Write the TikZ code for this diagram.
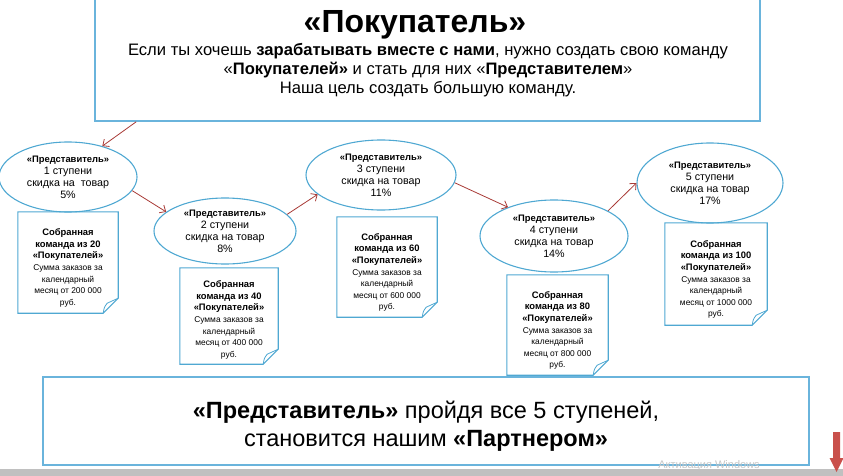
\documentclass[tikz,border=0pt]{standalone}
\usepackage{fontspec}
\setmainfont{Liberation Sans}
\usetikzlibrary{shapes.geometric,calc,arrows.meta}
\definecolor{bord}{HTML}{4FA8D2}
\definecolor{bigbord}{HTML}{6AB4DC}
\definecolor{arr}{HTML}{A83A36}
\definecolor{redarr}{HTML}{C9504B}
\definecolor{barcol}{HTML}{C0C0C0}
\newcommand\stgbold{\fontsize{9.4}{12}\selectfont\bfseries}
\begin{document}
\begin{tikzpicture}[x=1pt,y=-1pt,
  stage/.style={ellipse,draw=bord,line width=1.1pt,inner sep=0pt,align=center,
    font=\fontsize{10.7}{12}\selectfont},
  link/.style={draw=arr,line width=0.8pt,-{Straight Barb[length=5pt,width=9pt]}},
  notebox/.style={draw=none,inner sep=0pt},
  notebd/.style={draw=bord,line width=1.1pt,line join=miter},
  notetext/.style={align=center,inner sep=0pt,font=\fontsize{8.4}{11.6}\selectfont},
  nb/.style={},
  bigbox/.style={draw=bigbord,line width=1.6pt,inner sep=0pt}]
\useasboundingbox (0,0) rectangle (843,476);

% top box
\node[bigbox,minimum width=665pt,minimum height=124pt] (top) at (427.5,59) {};
\node[inner sep=0pt,font=\fontsize{32}{33}\selectfont\bfseries] (title) at (415,25) {«Покупатель»};
\node[inner sep=0pt,align=center,font=\fontsize{16.6}{19}\selectfont] (body) at (428,70)
 {Если ты хочешь \textbf{зарабатывать вместе с нами}, нужно создать свою команду\\
  «\textbf{Покупателей»} и стать для них «\textbf{Представителем}»\\
  Наша цель создать большую команду.};

% stages
\node[stage,minimum width=138pt,minimum height=70pt] (e1) at (68,177)
 {{\stgbold «Представитель»}\\1 ступени\\скидка на~~товар\\5\%};
\node[stage,minimum width=142pt,minimum height=66pt] (e2) at (225,231)
 {{\stgbold «Представитель»}\\2 ступени\\скидка на товар\\8\%};
\node[stage,minimum width=150pt,minimum height=70pt] (e3) at (381,175)
 {{\stgbold «Представитель»}\\3 ступени\\скидка на товар\\11\%};
\node[stage,minimum width=148pt,minimum height=72pt] (e4) at (554,236)
 {{\stgbold «Представитель»}\\4 ступени\\скидка на товар\\14\%};
\node[stage,minimum width=146pt,minimum height=80pt] (e5) at (710,183)
 {{\stgbold «Представитель»}\\5 ступени\\скидка на товар\\17\%};

% connectors
\coordinate (s0) at ($(top.south west)+(42,0)$);
\draw[link] (s0) -- (e1.42);
\draw[link] (e1.-12) -- (e2.162);
\draw[link] (e2.15) -- (e3.197);
\draw[link] (e3.-6) -- (e4.148);
\draw[link] (e4.25) -- (e5.180);

% notes
\newcommand\drawnote[1]{%
  \draw[notebd] (#1.north west) -- (#1.north east) -- ($(#1.south east)+(0,-15)$)
    -- ($(#1.south east)+(-15,0)$) -- (#1.south west) -- cycle;
  \draw[notebd,line width=0.8pt] ($(#1.south east)+(0,-15)$) -- ($(#1.south east)+(-11,-10)$)
    .. controls ($(#1.south east)+(-14,-6)$) .. ($(#1.south east)+(-15,0)$);
}
\newcommand\nbf[1]{{\fontsize{9.4}{11.6}\selectfont\bfseries #1}}
\node[notebox,minimum width=100pt,minimum height=101pt] (n1) at (68,262.5) {};
\node[notebox,minimum width=98pt,minimum height=96pt] (n2) at (229,316) {};
\node[notebox,minimum width=100pt,minimum height=100pt] (n3) at (387,267) {};
\node[notebox,minimum width=101pt,minimum height=100pt] (n4) at (557.5,325) {};
\node[notebox,minimum width=102pt,minimum height=102pt] (n5) at (716,274) {};
\drawnote{n1}\drawnote{n2}\drawnote{n3}\drawnote{n4}\drawnote{n5}
\node[notetext] (t1) at ($(n1.center)+(0,5.5)$)
 {\nbf{Собранная}\\\nbf{команда из 20}\\\nbf{«Покупателей»}\\Сумма заказов за\\календарный\\месяц от 200 000\\руб.};
\node[notetext] (t2) at ($(n2.center)+(0,4)$)
 {\nbf{Собранная}\\\nbf{команда из 40}\\\nbf{«Покупателей»}\\Сумма заказов за\\календарный\\месяц от 400 000\\руб.};
\node[notetext] (t3) at ($(n3.center)+(0,5.5)$)
 {\nbf{Собранная}\\\nbf{команда из 60}\\\nbf{«Покупателей»}\\Сумма заказов за\\календарный\\месяц от 600 000\\руб.};
\node[notetext] (t4) at ($(n4.center)+(0,5.5)$)
 {\nbf{Собранная}\\\nbf{команда из 80}\\\nbf{«Покупателей»}\\Сумма заказов за\\календарный\\месяц от 800 000\\руб.};
\node[notetext] (t5) at ($(n5.center)+(0,5.5)$)
 {\nbf{Собранная}\\\nbf{команда из 100}\\\nbf{«Покупателей»}\\Сумма заказов за\\календарный\\месяц от 1000 000\\руб.};

% bottom box
\node[bigbox,fill=white,minimum width=766pt,minimum height=88pt] (bottom) at (426,421) {};
\node[inner sep=0pt,align=center,font=\fontsize{23.5}{28}\selectfont] (btext) at (426,426)
 {\textbf{«Представитель»} пройдя все 5 ступеней,\\становится нашим \textbf{«Партнером»}};

% screen bar, watermark, red arrow
\fill[barcol] (0,469) rectangle (843,476);
\node[inner sep=0pt,text=gray!45,font=\fontsize{11}{12}\selectfont] (wm) at (709,466) {Активация Windows};
\fill[redarr] (833,432) -- (840,432) -- (840,458) -- (843.5,458) -- (836.5,472) -- (829.5,458) -- (833,458) -- cycle;
\end{tikzpicture}
\end{document}
